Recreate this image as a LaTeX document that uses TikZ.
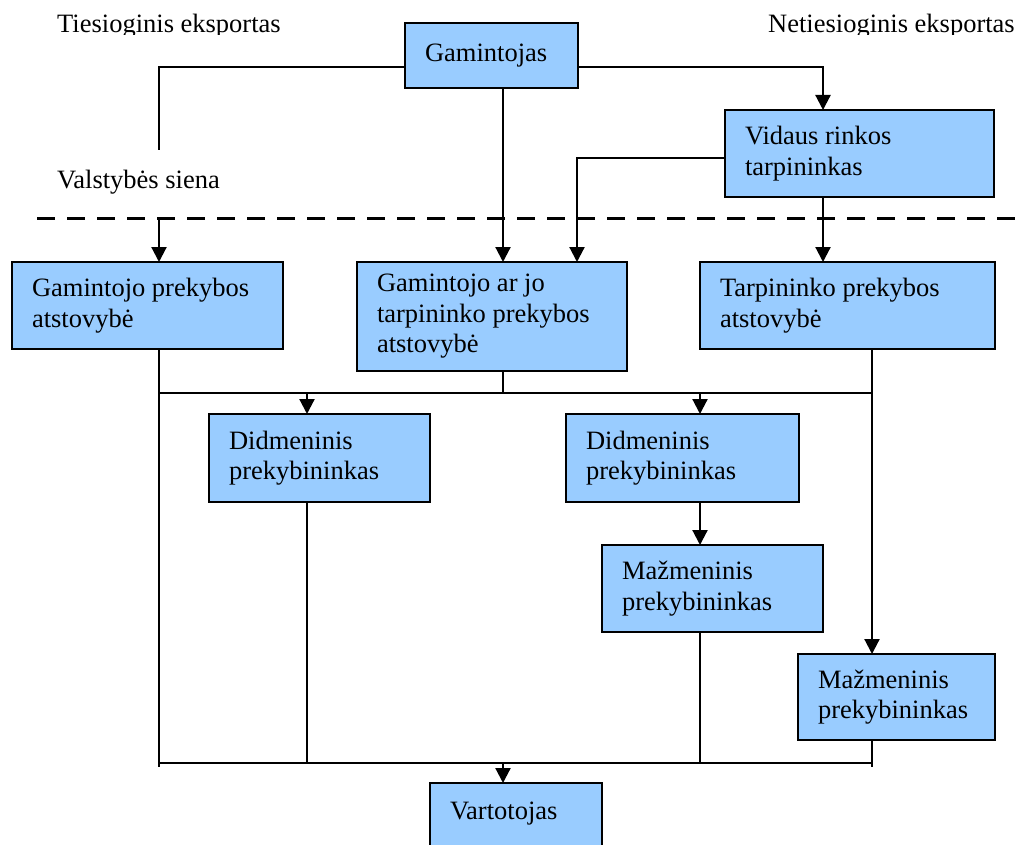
\documentclass[tikz,border=0pt]{standalone}
\usepackage{fontspec}
\setmainfont{Liberation Serif}
\usetikzlibrary{arrows.meta}
\definecolor{boxblue}{HTML}{99CCFF}
\begin{document}
\begin{tikzpicture}[x=1pt,y=-1pt,
  every node/.style={font=\fontsize{26.5}{30.5}\selectfont},
  box/.style={draw=black, line width=2pt, fill=boxblue, align=flush left,
    anchor=north west, inner xsep=20pt, inner ysep=0pt, outer sep=0pt},
  conn/.style={line width=1.8pt},
  arr/.style={line width=2.2pt, -{Triangle[length=15pt,width=15pt]}},
  border/.style={line width=3pt, dash pattern=on 18pt off 12pt},
  caption/.style={anchor=base west, inner sep=0pt}]
\useasboundingbox (0,0) rectangle (1022,845);

% headings, cut off along the top strip
\begin{scope}
  \clip (0,0) rectangle (1022,35);
  \node[caption] (direct) at (57,32.5) {Tiesioginis eksportas};
  \node[caption] (indirect) at (768,32.5) {Netiesioginis eksportas};
\end{scope}
\node[caption] (frontier) at (57,189) {Valstybės siena};

% state border
\draw[border] (37,218) -- (1022,218);

% boxes
\node[box, text width=133pt, minimum height=65pt] (gam) at (405,23) {Gamintojas};
\node[box, text width=229pt, minimum height=87pt] (vid) at (725,110) {Vidaus rinkos\\tarpininkas};
\node[box, text width=231pt, minimum height=87pt] (gpa) at (12,262) {Gamintojo prekybos\\atstovybė};
\node[box, text width=230pt, minimum height=109pt] (gta) at (357,262) {Gamintojo ar jo\\tarpininko prekybos\\atstovybė};
\node[box, text width=255pt, minimum height=87pt] (tpa) at (700,262) {Tarpininko prekybos\\atstovybė};
\node[box, text width=181pt, minimum height=88pt] (did1) at (209,414) {Didmeninis\\prekybininkas};
\node[box, text width=193pt, minimum height=88pt] (did2) at (566,414) {Didmeninis\\prekybininkas};
\node[box, text width=181pt, minimum height=87pt] (maz1) at (602,545) {Mažmeninis\\prekybininkas};
\node[box, text width=157pt, minimum height=86pt] (maz2) at (798,654) {Mažmeninis\\prekybininkas};
\node[box, text width=132pt, inner ysep=19pt, text depth=31pt] (var) at (430,783) {Vartotojas};

% junction points
\coordinate (tl) at (159,67);
\coordinate (tlEnd) at (159,150);
\coordinate (bl) at (159,220);
\coordinate (tr) at (823,67);
\coordinate (xg) at (503,88);
\coordinate (vl) at (577,158);
\coordinate (b1L) at (159,393);
\coordinate (b1R) at (872,393);
\coordinate (d1x) at (307,393);
\coordinate (d2x) at (700,393);
\coordinate (b2L) at (159,763);
\coordinate (b2R) at (872,763);
\coordinate (b2Lt) at (159,767);
\coordinate (b2Rt) at (872,767);

% direct export
\draw[conn] (gam.west |- tl) -- (tl) -- (tlEnd);
\draw[arr] (bl) -- (gpa.north -| bl);
% producer to its own representative
\draw[arr] (gam.south -| xg) -- (gta.north -| xg);
% indirect export
\draw[arr] (gam.east |- tr) -- (tr) -- (vid.north -| tr);
\draw[arr] (vid.west |- vl) -- (vl) -- (gta.north -| vl);
\draw[arr] (vid.south -| tr) -- (tpa.north -| tr);

% first distribution bus
\draw[conn] (gpa.south -| b1L) -- (b2Lt);
\draw[conn] (b1L) -- (b1R);
\draw[conn] (gta.south -| xg) -- (xg |- b1L);
\draw[arr] (tpa.south -| b1R) -- (maz2.north -| b1R);
\draw[arr] (d1x) -- (did1.north -| d1x);
\draw[arr] (d2x) -- (did2.north -| d2x);
\draw[arr] (did2.south -| d2x) -- (maz1.north -| d2x);

% second distribution bus to the consumer
\draw[conn] (b2L) -- (b2R);
\draw[conn] (did1.south -| d1x) -- (d1x |- b2L);
\draw[conn] (maz1.south -| d2x) -- (d2x |- b2L);
\draw[conn] (maz2.south -| b2R) -- (b2Rt);
\draw[arr] (xg |- b2L) -- (var.north -| xg);
\end{tikzpicture}
\end{document}
